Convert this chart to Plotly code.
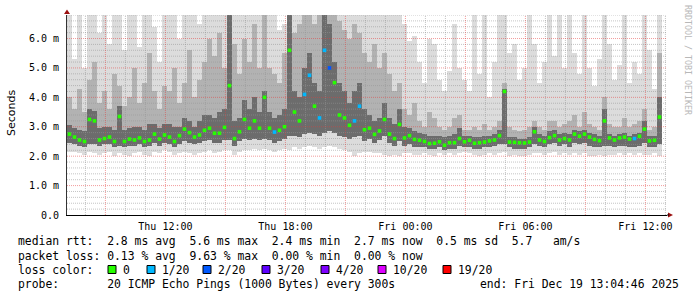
import numpy as np
import pandas as pd
import plotly.graph_objects as go

# ---------------- data ----------------
start = pd.Timestamp("2025-12-18 07:04:46")
step_min = 15

median_ms = [
    2.75, 2.65, 2.55, 2.5, 3.25, 3.2, 2.55, 2.6, 2.65, 2.5,
    3.35, 2.5, 2.58, 2.55, 2.62, 2.5, 2.55, 2.75, 2.58, 2.72,
    2.65, 2.5, 2.7, 2.92, 2.8, 2.65, 2.72, 2.88, 2.95, 2.78,
    2.78, 2.98, 4.4, 2.6, 2.83, 3.25, 2.95, 3.2, 2.95, 4.0,
    2.95, 2.82, 2.88, 3.0, 5.6, 3.5, 3.2, 4.1, 4.75, 3.7,
    3.3, 5.6, 5.0, 4.5, 3.4, 3.3, 3.05, 3.2, 3.7, 2.9,
    2.95, 2.74, 2.86, 3.25, 2.75, 2.6, 3.08, 2.62, 2.7, 2.57,
    2.54, 2.5, 2.43, 2.44, 2.49, 2.37, 2.46, 2.46, 2.6, 2.49,
    2.54, 2.44, 2.46, 2.48, 2.52, 2.55, 2.7, 4.2, 2.48, 2.47,
    2.46, 2.45, 2.48, 2.83, 2.55, 2.5, 2.63, 2.7, 2.55, 2.6,
    2.55, 2.75, 2.68, 2.75, 2.65, 2.57, 2.53, 3.2, 2.62, 2.55,
    2.62, 2.65, 2.58, 2.6, 2.68, 2.92, 2.52, 2.54, 3.33, None]

smoke_max = [
    6.8, 5.3, 6.8, 5.0, 6.8, 6.8, 6.2, 6.8, 5.8, 6.8,
    6.8, 5.6, 6.8, 6.8, 5.7, 6.8, 6.8, 6.4, 5.2, 6.8,
    6.8, 6.8, 6.0, 6.8, 6.8, 6.8, 6.5, 6.8, 6.8, 6.8,
    6.8, 6.8, 6.8, 6.8, 6.8, 6.8, 6.8, 6.8, 6.8, 6.8,
    6.8, 6.8, 6.3, 6.5, 6.8, 6.8, 6.8, 6.8, 6.8, 6.8,
    6.8, 6.8, 6.8, 6.8, 6.8, 6.8, 6.8, 6.8, 6.8, 6.8,
    6.8, 6.8, 6.8, 6.8, 6.8, 6.8, 6.8, 6.5, 5.9, 6.1,
    5.2, 4.5, 6.0, 5.8, 4.6, 4.2, 4.9, 6.5, 5.0, 4.6,
    4.2, 6.8, 4.8, 6.8, 4.0, 5.2, 6.8, 6.8, 5.5, 5.8,
    4.6, 5.0, 6.8, 5.8, 4.5, 5.2, 6.8, 5.4, 6.8, 5.0,
    6.8, 5.5, 4.8, 6.8, 5.0, 4.4, 5.3, 6.8, 5.8, 4.6,
    5.1, 6.8, 4.5, 5.2, 4.8, 6.8, 5.6, 4.3, 6.8, None]

smoke_upper = [
    4.0, 3.6, 4.3, 3.5, 4.6, 5.2, 3.8, 4.2, 3.6, 4.8,
    4.4, 3.7, 4.0, 5.0, 3.8, 4.5, 5.5, 4.2, 3.6, 4.4,
    4.2, 5.0, 3.8, 4.5, 5.6, 4.0, 4.6, 5.2, 6.0, 5.4,
    6.2, 5.0, 6.8, 5.8, 4.8, 6.0, 5.2, 6.5, 5.0, 6.8,
    5.0, 4.8, 4.5, 5.5, 6.8, 6.2, 6.5, 6.8, 6.8, 6.5,
    6.8, 6.8, 6.8, 6.8, 6.6, 6.3, 6.0, 6.5, 6.2, 5.5,
    5.2, 5.8, 5.0, 5.5, 4.8, 4.2, 4.5, 3.6, 3.4, 3.8,
    3.2, 3.0, 3.5, 3.3, 3.0, 2.9, 3.0, 3.3, 3.4, 2.9,
    2.9, 3.0, 2.9, 3.1, 2.9, 3.0, 3.2, 4.5, 3.0, 2.9,
    2.85, 2.9, 3.0, 3.2, 3.0, 2.9, 3.2, 3.2, 3.0, 3.1,
    3.2, 3.4, 3.0, 3.5, 3.1, 3.0, 2.9, 4.0, 3.1, 3.0,
    3.0, 3.3, 3.0, 3.1, 3.2, 3.6, 2.9, 3.0, 5.5, None]

smoke_core_top = [
    3.05, 2.95, 2.9, 2.85, 3.6, 3.55, 2.95, 3.0, 3.0, 2.9,
    3.7, 2.9, 2.95, 3.0, 3.0, 2.9, 3.1, 3.1, 2.95, 3.1,
    3.1, 3.0, 3.0, 3.3, 3.2, 3.0, 3.2, 3.4, 3.4, 3.3,
    3.5, 3.6, 6.8, 3.2, 3.3, 3.9, 3.6, 4.0, 3.5, 4.2,
    3.5, 3.3, 3.4, 3.6, 6.8, 4.2, 4.0, 5.0, 5.5, 4.5,
    4.2, 6.8, 6.5, 5.2, 4.5, 4.2, 3.8, 4.2, 4.5, 3.6,
    3.4, 3.2, 3.3, 3.8, 3.3, 3.1, 3.6, 3.0, 2.95, 2.85,
    2.8, 2.75, 2.7, 2.7, 2.7, 2.65, 2.7, 2.75, 2.95, 2.7,
    2.7, 2.65, 2.65, 2.7, 2.7, 2.75, 2.9, 4.3, 2.65, 2.65,
    2.6, 2.6, 2.65, 3.0, 2.75, 2.7, 2.85, 2.9, 2.75, 2.8,
    2.75, 2.9, 2.85, 2.9, 2.8, 2.75, 2.7, 3.6, 2.75, 2.7,
    2.75, 2.8, 2.7, 2.75, 2.8, 3.2, 2.7, 2.7, 4.0, None]

smoke_core_bottom = [
    2.45, 2.4, 2.35, 2.3, 2.4, 2.4, 2.35, 2.4, 2.4, 2.3,
    2.35, 2.3, 2.35, 2.35, 2.4, 2.3, 2.35, 2.45, 2.35, 2.45,
    2.4, 2.3, 2.4, 2.5, 2.45, 2.4, 2.45, 2.5, 2.55, 2.45,
    2.45, 2.55, 2.55, 2.35, 2.5, 2.6, 2.55, 2.6, 2.55, 2.6,
    2.55, 2.45, 2.5, 2.6, 2.7, 2.7, 2.65, 2.75, 2.8, 2.75,
    2.7, 2.8, 2.85, 2.8, 2.7, 2.65, 2.6, 2.65, 2.7, 2.5,
    2.6, 2.45, 2.55, 2.7, 2.45, 2.35, 2.5, 2.35, 2.4, 2.3,
    2.3, 2.3, 2.25, 2.25, 2.3, 2.2, 2.25, 2.25, 2.35, 2.3,
    2.3, 2.25, 2.25, 2.3, 2.3, 2.35, 2.4, 2.4, 2.3, 2.25,
    2.25, 2.25, 2.3, 2.4, 2.35, 2.3, 2.4, 2.45, 2.35, 2.4,
    2.3, 2.45, 2.4, 2.45, 2.35, 2.3, 2.3, 2.35, 2.35, 2.3,
    2.35, 2.35, 2.3, 2.3, 2.35, 2.45, 2.3, 2.3, 2.4, None]

smoke_min = [
    2.15, 2.15, 2.1, 2.05, 2.15, 2.1, 2.05, 2.1, 2.15, 2.0,
    2.1, 2.05, 2.0, 2.1, 2.15, 2.05, 2.0, 2.15, 2.1, 2.2,
    2.15, 2.05, 2.1, 2.15, 2.1, 2.05, 2.1, 2.15, 2.2, 2.1,
    2.15, 2.2, 2.2, 2.05, 2.15, 2.2, 2.2, 2.25, 2.2, 2.25,
    2.2, 2.15, 2.2, 2.25, 2.2, 2.3, 2.25, 2.3, 2.35, 2.3,
    2.25, 2.3, 2.35, 2.3, 2.25, 2.2, 2.15, 2.0, 2.1, 2.15,
    2.15, 2.1, 2.1, 2.05, 2.0, 2.05, 2.0, 2.1, 2.1, 2.05,
    2.05, 2.1, 2.05, 2.0, 2.1, 2.05, 2.1, 2.05, 2.1, 2.15,
    2.1, 2.05, 2.0, 2.05, 2.1, 2.05, 2.1, 2.15, 2.0, 2.05,
    2.0, 2.0, 2.05, 2.1, 2.1, 2.05, 2.1, 2.15, 2.05, 2.1,
    2.05, 2.1, 2.05, 2.1, 2.0, 2.0, 2.05, 2.0, 2.05, 2.05,
    2.1, 2.05, 2.1, 2.05, 2.1, 2.05, 2.05, 2.1, 2.0, None]

# lost pings out of 20 per step (0 unless noted)
loss_steps = {41: 1, 47: 1, 48: 1, 50: 1, 51: 1, 52: 2, 57: 1, 58: 1, 113: 1}

loss_labels = ["0", "1/20", "2/20", "3/20", "4/20", "10/20", "19/20"]
loss_colors = ["#26ff00", "#00b8ff", "#0059ff", "#5e00ff", "#7e00ff", "#dd00ff", "#ff0000"]
loss_count_color = {0: "#26ff00", 1: "#00b8ff", 2: "#0059ff", 3: "#5e00ff",
                    4: "#7e00ff", 10: "#dd00ff", 19: "#ff0000"}

y_tick_vals = [0, 1, 2, 3, 4, 5, 6]
y_tick_text = ["0.0", "1.0 m", "2.0 m", "3.0 m", "4.0 m", "5.0 m", "6.0 m"]
x_tick_times = ["2025-12-18 12:00", "2025-12-18 18:00", "2025-12-19 00:00",
                "2025-12-19 06:00", "2025-12-19 12:00"]
x_tick_text = ["Thu 12:00", "Thu 18:00", "Fri 00:00", "Fri 06:00", "Fri 12:00"]

stats_line1 = "median rtt:  2.8 ms avg  5.6 ms max  2.4 ms min  2.7 ms now  0.5 ms sd  5.7   am/s"
stats_line2 = "packet loss: 0.13 % avg  9.63 % max  0.00 % min  0.00 % now"
probe_line = "probe:       20 ICMP Echo Pings (1000 Bytes) every 300s"
end_text = "end: Fri Dec 19 13:04:46 2025"

# ---------------- build ----------------
def arr(v):
    return np.array([np.nan if a is None else a for a in v], dtype=float)

med = arr(median_ms)
mx = arr(smoke_max)
up = arr(smoke_upper)
ct = arr(smoke_core_top)
cb = arr(smoke_core_bottom)
mn = arr(smoke_min)
N = len(med)
step = pd.Timedelta(minutes=step_min)
xc = [start + step * k + step / 2 for k in range(N)]
end = start + step * N
wms = step_min * 60 * 1000

MONO = "DejaVu Sans Mono"
fig = go.Figure()

def band(lo, hi, color):
    fig.add_trace(go.Bar(x=xc, y=hi - lo, base=lo, width=wms,
                         marker=dict(color=color, line=dict(width=0)),
                         hoverinfo="skip", showlegend=False))

band(mn, mx, "#dcdcdc")
band(cb, up, "#b2b2b2")
band(cb, ct, "#6c6c6c")

# grid (drawn over the smoke, below median)
hx, hy, Hx, Hy = [], [], [], []
for k in range(1, 35):
    yv = round(k * 0.2, 2)
    if k % 5 == 0:
        Hx += [start, end, None]; Hy += [yv, yv, None]
    else:
        hx += [start, end, None]; hy += [yv, yv, None]
t = start.ceil("h")
while t < end:
    if t.hour % 3 == 0:
        Hx += [t, t, None]; Hy += [0, 6.8, None]
    else:
        hx += [t, t, None]; hy += [0, 6.8, None]
    t += pd.Timedelta(hours=1)
fig.add_trace(go.Scatter(x=hx, y=hy, mode="lines", hoverinfo="skip", showlegend=False,
                         line=dict(color="rgba(150,150,150,0.55)", width=1, dash="1px,1px")))
fig.add_trace(go.Scatter(x=Hx, y=Hy, mode="lines", hoverinfo="skip", showlegend=False,
                         line=dict(color="rgba(230,60,60,0.5)", width=1, dash="1px,1px")))

mcolors = [loss_count_color[loss_steps.get(k, 0)] for k in range(N)]
fig.add_trace(go.Scatter(x=xc, y=med, mode="markers", hoverinfo="skip", showlegend=False,
                         marker=dict(symbol="square", size=3.6, color=mcolors, line=dict(width=0))))

L, R, T, B = 67, 30, 15, 82
PW, PH = 697 - L - R, 297 - T - B

def px(x):
    return (x - L) / PW

def py(y):
    return (T + PH - y) / PH

fig.update_layout(
    width=697, height=297, margin=dict(l=L, r=R, t=T, b=B, pad=0, autoexpand=False),
    paper_bgcolor="white", plot_bgcolor="white",
    barmode="overlay", bargap=0, showlegend=False,
    xaxis=dict(type="date", range=[start, end], showgrid=False, zeroline=False,
               automargin=False,
               showline=True, linecolor="#000", linewidth=1,
               tickvals=[pd.Timestamp(s) for s in x_tick_times], ticktext=x_tick_text,
               ticks="", tickfont=dict(family=MONO, size=10, color="#000"),
               ticklabelstandoff=2),
    yaxis=dict(range=[0, 6.8], showgrid=False, zeroline=False, automargin=False,
               showline=True, linecolor="#333", linewidth=1,
               tickvals=y_tick_vals, ticktext=y_tick_text, ticks="",
               tickfont=dict(family=MONO, size=10, color="#000"), ticklabelstandoff=5),
)

fig.add_annotation(xref="paper", yref="paper", x=px(11), y=py(113), text="Seconds",
                   textangle=-90, showarrow=False, xanchor="center", yanchor="middle",
                   font=dict(family="DejaVu Sans", size=11, color="#000"))

# axis arrows
ar = "#9b1010"
fig.add_shape(type="path", xref="paper", yref="paper",
              path=f"M {px(64)} {py(14)} L {px(70)} {py(14)} L {px(67)} {py(9.5)} Z",
              fillcolor=ar, line=dict(width=0))
fig.add_shape(type="path", xref="paper", yref="paper",
              path=f"M {px(668)} {py(212.5)} L {px(668)} {py(217.5)} L {px(673)} {py(215)} Z",
              fillcolor=ar, line=dict(width=0))
fig.add_shape(type="line", xref="paper", yref="paper", x0=px(667), x1=px(669),
              y0=py(215), y1=py(215), line=dict(color="#000", width=1))

# watermark
fig.add_annotation(xref="paper", yref="paper", x=px(688), y=py(60), text="RRDTOOL / TOBI OETIKER",
                   textangle=90, showarrow=False, xanchor="center", yanchor="middle",
                   font=dict(family=MONO, size=8.3, color="#b8b8b8"))

FS = 11.4
def txt(x, y, s, anchor="left"):
    fig.add_annotation(xref="paper", yref="paper", x=px(x), y=py(y), text=s.replace(" ", "&nbsp;"),
                       showarrow=False, xanchor=anchor, yanchor="middle",
                       font=dict(family=MONO, size=FS, color="#000"))

txt(16, 241, stats_line1)
txt(16, 255.5, stats_line2)
txt(16, 269.5, "loss color:")
txt(16, 284, probe_line)
txt(478, 284, end_text)

sq_x = [108, 147, 203, 262, 321, 378, 443]
for sx, lab, col in zip(sq_x, loss_labels, loss_colors):
    fig.add_shape(type="rect", xref="paper", yref="paper",
                  x0=px(sx), x1=px(sx + 8), y0=py(273.5), y1=py(265.5),
                  fillcolor=col, line=dict(color="#000", width=1))
    txt(sx + 13, 269.5, lab)

fig.write_html("out.html")
